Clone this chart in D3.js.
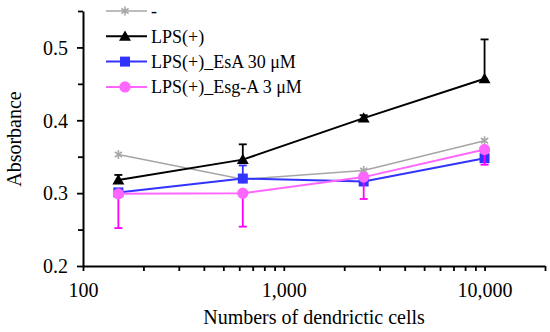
<!DOCTYPE html>
<html lang="en">
<head>
  <meta charset="UTF-8" />
  <title>Absorbance vs dendritic cells</title>
  <script src="https://d3js.org/d3.v7.min.js"></script>
  <style>
    body { margin:0; padding:0; background:#fff; }
    svg { display:block; }
    text { font-family:"Liberation Serif", "Times New Roman", serif; fill:#000; }
    .axis path, .axis line { stroke:#000; }
  </style>
</head>
<body>
  <svg width="550" height="332"></svg>

  <script>
  // cell numbers on the x axis
  const cells = [150, 625, 2500, 10000];

  // series values (absorbance) and error bars
  const seriesNames = ["-", "LPS(+)", "LPS(+)_EsA 30 μM", "LPS(+)_Esg-A 3 μM"];
  const ctrl   = [0.353, 0.319, 0.331, 0.372];
  const lps    = [0.318, 0.346, 0.403, 0.457];
  const esa    = [0.301, 0.320, 0.316, 0.348];
  const esg    = [0.299, 0.300, 0.322, 0.360];
  const lpsErr = [0.007, 0.021, 0.004, 0.054];   // drawn upward
  const esaErr = [0.004, 0.018, 0.003, 0.004];   // drawn upward
  const esgErr = [0.047, 0.046, 0.030, 0.021];   // drawn downward

  const yMajor = [0.2, 0.3, 0.4, 0.5];
  const yMinor = [0.25, 0.35, 0.45, 0.55];
  const xMajor = [100, 1000, 10000];
  const xMinor = [200, 300, 400, 500, 600, 700, 800, 900,
                  2000, 3000, 4000, 5000, 6000, 7000, 8000, 9000, 20000];

  const svg = d3.select("svg");

  const x = d3.scaleLog().domain([100, 20000]).range([83, 545]);
  const y = d3.scaleLinear().domain([0.2, 0.55]).range([266, 11]);

  // axes
  const yAxis = svg.append("g").attr("class", "axis")
    .attr("transform", "translate(83,0)")
    .call(d3.axisLeft(y).tickValues(yMajor).tickSize(6).tickSizeOuter(0)
      .tickPadding(9).tickFormat(d3.format(".1f")));
  svg.append("g").attr("class", "axis")
    .attr("transform", "translate(83,0)")
    .call(d3.axisLeft(y).tickValues(yMinor).tickSize(5).tickSizeOuter(0).tickFormat(""))
    .select(".domain").remove();

  const xAxis = svg.append("g").attr("class", "axis")
    .attr("transform", "translate(0,266)")
    .call(d3.axisBottom(x).tickValues(xMajor).tickSize(5).tickSizeOuter(0)
      .tickPadding(12).tickFormat(d3.format(",")));
  svg.append("g").attr("class", "axis")
    .attr("transform", "translate(0,266)")
    .call(d3.axisBottom(x).tickValues(xMinor).tickSize(5).tickSizeOuter(0).tickFormat(""))
    .select(".domain").remove();

  svg.selectAll(".axis .domain").attr("stroke-width", 2);
  svg.selectAll(".axis .tick line").attr("stroke-width", 1.8);
  svg.selectAll(".axis text").style("font-family", "Liberation Serif").attr("font-size", 20);
  yAxis.selectAll("text").attr("dy", "0.34em");

  // axis titles
  svg.append("text")
    .attr("x", 314).attr("y", 324)
    .attr("text-anchor", "middle").attr("font-size", 20)
    .text("Numbers of dendrictic cells");
  svg.append("text")
    .attr("transform", "translate(21,139) rotate(-90)")
    .attr("text-anchor", "middle").attr("font-size", 20)
    .text("Absorbance");

  // marker shapes
  const starPath = s => `M0,${-s}V${s}M${-s*0.8},${-s*0.6}L${s*0.8},${s*0.6}M${-s*0.8},${s*0.6}L${s*0.8},${-s*0.6}`;
  const tri = d3.symbol().type(d3.symbolTriangle).size(62)();
  const sq  = d3.symbol().type(d3.symbolSquare).size(100)();
  const circ = d3.symbol().type(d3.symbolCircle).size(100)();

  const series = [
    { name: seriesNames[0], vals: ctrl, color: "#a6a6a6", width: 1.6, marker: "star" },
    { name: seriesNames[1], vals: lps,  color: "#000000", width: 2,   marker: tri,
      err: lpsErr, dir: 1, errColor: "#000000" },
    { name: seriesNames[2], vals: esa,  color: "#3333ff", width: 2,   marker: sq,
      err: esaErr, dir: 1, errColor: "#3333ff" },
    { name: seriesNames[3], vals: esg,  color: "#ff66ff", width: 2,   marker: circ,
      err: esgErr, dir: -1, errColor: "#ff00ff" }
  ];

  const line = d3.line().x(d => x(d[0])).y(d => y(d[1]));

  function drawMarker(g, s, px, py) {
    if (s.marker === "star") {
      g.append("path").attr("d", starPath(4.5))
        .attr("transform", `translate(${px},${py})`)
        .attr("stroke", s.color).attr("stroke-width", 1.6).attr("fill", "none");
    } else {
      g.append("path").attr("d", s.marker)
        .attr("transform", `translate(${px},${py + (s.marker === tri ? 1 : 0)})`)
        .attr("fill", s.color);
    }
  }

  series.forEach(s => {
    const g = svg.append("g");
    const pts = cells.map((c, i) => [c, s.vals[i]]);
    // error bars
    if (s.err) {
      pts.forEach((p, i) => {
        const end = p[1] + s.dir * s.err[i];
        g.append("line")
          .attr("x1", x(p[0])).attr("x2", x(p[0]))
          .attr("y1", y(p[1])).attr("y2", y(end))
          .attr("stroke", s.errColor).attr("stroke-width", 1.8);
        g.append("line")
          .attr("x1", x(p[0]) - 4).attr("x2", x(p[0]) + 4)
          .attr("y1", y(end)).attr("y2", y(end))
          .attr("stroke", s.errColor).attr("stroke-width", 1.8);
      });
    }
    g.append("path").datum(pts).attr("d", line)
      .attr("fill", "none").attr("stroke", s.color).attr("stroke-width", s.width);
    pts.forEach(p => drawMarker(g, s, x(p[0]), y(p[1])));
  });

  // legend
  const legend = svg.append("g");
  series.forEach((s, i) => {
    const ly = 11 + i * 25.3;
    legend.append("line")
      .attr("x1", 106).attr("x2", 147).attr("y1", ly).attr("y2", ly)
      .attr("stroke", s.color).attr("stroke-width", s.width);
    drawMarker(legend, s, 125, ly);
    legend.append("text")
      .attr("x", 151).attr("y", ly).attr("dy", "0.35em")
      .attr("font-size", 18)
      .text(s.name);
  });
  </script>
</body>
</html>
